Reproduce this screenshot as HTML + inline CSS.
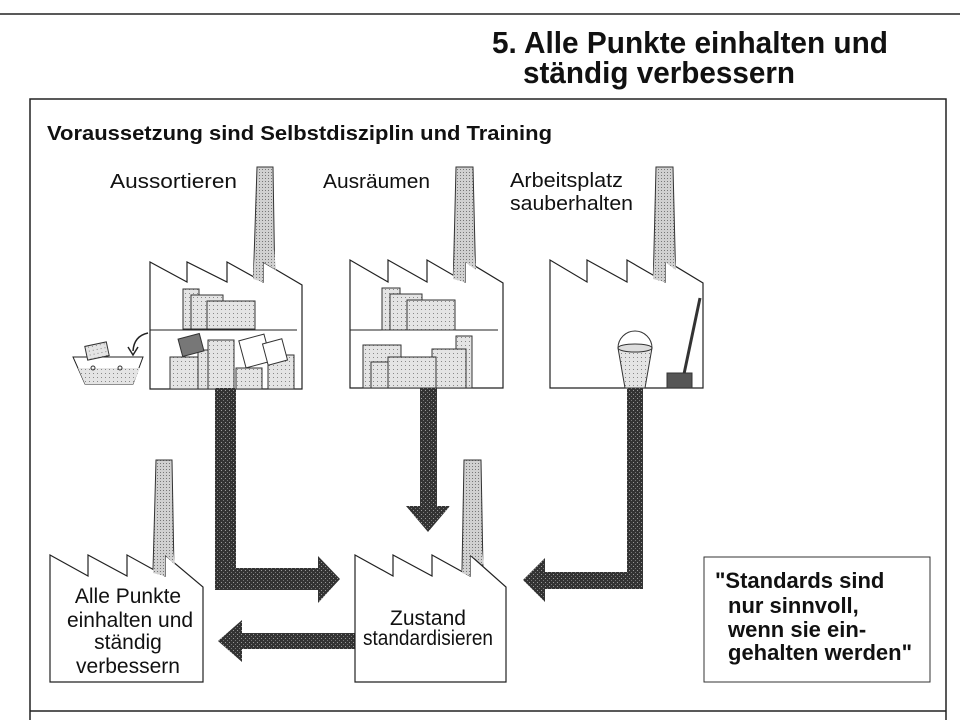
<!DOCTYPE html>
<html><head><meta charset="utf-8"><style>
html,body{margin:0;padding:0;background:#fff;}
svg{display:block;}
text{font-family:"Liberation Sans",sans-serif;fill:#111;}
</style></head><body>
<svg width="960" height="720" viewBox="0 0 960 720" xmlns="http://www.w3.org/2000/svg">
<defs>
<pattern id="lt" width="4" height="4" patternUnits="userSpaceOnUse"><rect width="4" height="4" fill="#e4e4e4"/><rect x="1" y="1" width="1" height="1" fill="#888"/></pattern>
<pattern id="ch" width="3" height="3" patternUnits="userSpaceOnUse"><rect width="3" height="3" fill="#d0d0d0"/><rect x="1" y="1" width="1" height="1" fill="#777"/></pattern>
<pattern id="dk" width="4" height="4" patternUnits="userSpaceOnUse"><rect width="4" height="4" fill="#333"/><rect x="1" y="2" width="1" height="1" fill="#999"/><rect x="3" y="0" width="1" height="1" fill="#777"/></pattern>
</defs>
<line x1="0" y1="14" x2="960" y2="14" stroke="#222" stroke-width="1.5"/>
<text x="492" y="53" font-size="31" font-weight="bold" textLength="396" lengthAdjust="spacingAndGlyphs">5. Alle Punkte einhalten und</text>
<text x="523" y="83" font-size="31" font-weight="bold" textLength="272" lengthAdjust="spacingAndGlyphs">ständig verbessern</text>
<path d="M30 720 V99 H946 V720" fill="none" stroke="#222" stroke-width="1.5"/>
<line x1="30" y1="711" x2="946" y2="711" stroke="#222" stroke-width="1.5"/>
<text x="47" y="140" font-size="20" font-weight="bold" textLength="505" lengthAdjust="spacingAndGlyphs">Voraussetzung sind Selbstdisziplin und Training</text>
<text x="110" y="188" font-size="20" textLength="127" lengthAdjust="spacingAndGlyphs">Aussortieren</text>
<text x="323" y="188" font-size="20" textLength="107" lengthAdjust="spacingAndGlyphs">Ausräumen</text>
<text x="510" y="187" font-size="20" textLength="113" lengthAdjust="spacingAndGlyphs">Arbeitsplatz</text>
<text x="510" y="210" font-size="20" textLength="123" lengthAdjust="spacingAndGlyphs">sauberhalten</text>

<!-- factory 1 -->
<path d="M253 290 L257 167 H273 L275 290 Z" fill="url(#ch)" stroke="#333"/>
<path d="M150 389 V262 L187 282 V262 L227 282 V262 L263 282 V262 L302 285 V389 Z" fill="#fff" stroke="#222" stroke-width="1.2"/>
<path d="M253 279 L255 250 H274 L276 270 L263 262 V282 Z" fill="url(#ch)"/>
<line x1="150" y1="330" x2="297" y2="330" stroke="#222"/>
<rect x="183" y="289" width="16" height="40" fill="url(#lt)" stroke="#333"/>
<rect x="191" y="295" width="32" height="34" fill="url(#lt)" stroke="#333"/>
<rect x="207" y="301" width="48" height="28" fill="url(#lt)" stroke="#333"/>
<rect x="170" y="357" width="28" height="32" fill="url(#lt)" stroke="#333"/>
<rect x="198" y="350" width="12" height="39" fill="url(#lt)" stroke="#333"/>
<rect x="208" y="340" width="26" height="49" fill="url(#lt)" stroke="#333"/>
<rect x="236" y="368" width="26" height="21" fill="url(#lt)" stroke="#333"/>
<rect x="268" y="355" width="26" height="34" fill="url(#lt)" stroke="#333"/>
<rect x="180" y="336" width="22" height="18" fill="#777" stroke="#333" transform="rotate(-15 191 345)"/>
<rect x="242" y="337" width="26" height="28" fill="#fff" stroke="#333" transform="rotate(-15 255 351)"/>
<rect x="265" y="341" width="20" height="22" fill="#fff" stroke="#333" transform="rotate(-15 275 352)"/>
<path d="M73 357 H143 L133 384 H85 Z" fill="#fff" stroke="#222"/>
<path d="M78 368 H140 L133 384 H85 Z" fill="url(#lt)"/>
<rect x="86" y="344" width="22" height="14" fill="url(#lt)" stroke="#333" transform="rotate(-12 97 351)"/>
<circle cx="93" cy="368" r="2" fill="none" stroke="#333"/><circle cx="120" cy="368" r="2" fill="none" stroke="#333"/>
<path d="M148 333 Q134 336 133 351" fill="none" stroke="#222" stroke-width="1.5"/>
<path d="M128 347 L133 355 L138 347" fill="none" stroke="#222" stroke-width="1.5"/>

<!-- factory 2 -->
<path d="M453 290 L456 167 H473 L476 290 Z" fill="url(#ch)" stroke="#333"/>
<path d="M350 388 V260 L388 282 V260 L427 282 V260 L465 282 V260 L503 283 V388 Z" fill="#fff" stroke="#222" stroke-width="1.2"/>
<path d="M453 279 L455 250 H474 L476 270 L465 262 V282 Z" fill="url(#ch)"/>
<line x1="350" y1="330" x2="498" y2="330" stroke="#222"/>
<rect x="382" y="288" width="18" height="42" fill="url(#lt)" stroke="#333"/>
<rect x="390" y="294" width="32" height="36" fill="url(#lt)" stroke="#333"/>
<rect x="407" y="300" width="48" height="30" fill="url(#lt)" stroke="#333"/>
<rect x="363" y="345" width="38" height="43" fill="url(#lt)" stroke="#333"/>
<rect x="456" y="336" width="16" height="52" fill="url(#lt)" stroke="#333"/>
<rect x="432" y="349" width="34" height="39" fill="url(#lt)" stroke="#333"/>
<rect x="371" y="362" width="20" height="26" fill="url(#lt)" stroke="#333"/>
<rect x="388" y="357" width="48" height="31" fill="url(#lt)" stroke="#333"/>

<!-- factory 3 -->
<path d="M653 290 L656 167 H673 L676 290 Z" fill="url(#ch)" stroke="#333"/>
<path d="M550 388 V260 L587 282 V260 L627 282 V260 L665 282 V260 L703 283 V388 Z" fill="#fff" stroke="#222" stroke-width="1.2"/>
<path d="M653 279 L655 250 H674 L676 270 L665 262 V282 Z" fill="url(#ch)"/>
<path d="M618 348 H652 L645 388 H625 Z" fill="url(#lt)" stroke="#333"/>
<path d="M618 348 A17 17 0 0 1 652 348" fill="none" stroke="#333"/>
<ellipse cx="635" cy="348" rx="17" ry="4" fill="#ddd" stroke="#333"/>
<path d="M700 298 L684 374" stroke="#333" stroke-width="3" fill="none"/>
<rect x="667" y="373" width="25" height="15" fill="#555" stroke="#333"/>

<!-- arrows -->
<path d="M215 388 H236 V568 H318 V556 L340 579 L318 603 V590 H215 Z" fill="url(#dk)"/>
<path d="M420 388 H437 V506 H450 L428 532 L406 506 H420 Z" fill="url(#dk)"/>
<path d="M627 388 H643 V589 H545 V602 L523 580 L545 558 V572 H627 Z" fill="url(#dk)"/>
<path d="M355 633 H242 V620 L218 641 L242 662 V649 H355 Z" fill="url(#dk)"/>

<!-- bottom left factory -->
<path d="M153 570 L156 460 H172 L174 570 Z" fill="url(#ch)" stroke="#333"/>
<path d="M50 682 V555 L88 576 V555 L127 576 V555 L165 576 V555 L203 587 V682 Z" fill="#fff" stroke="#222" stroke-width="1.2"/>
<path d="M153 573 L155 550 H173 L175 565 L165 555 V576 Z" fill="url(#ch)"/>
<text font-size="21" text-anchor="middle"><tspan x="128" y="603">Alle Punkte</tspan><tspan x="130" y="627">einhalten und</tspan><tspan x="128" y="649">ständig</tspan><tspan x="128" y="673">verbessern</tspan></text>

<!-- center factory -->
<path d="M462 570 L464 460 H481 L483 570 Z" fill="url(#ch)" stroke="#333"/>
<path d="M355 682 V555 L393 576 V555 L432 576 V555 L470 576 V555 L506 587 V682 Z" fill="#fff" stroke="#222" stroke-width="1.2"/>
<path d="M462 573 L464 550 H482 L484 565 L470 555 V576 Z" fill="url(#ch)"/>
<text x="428" y="625" font-size="21" text-anchor="middle">Zustand</text>
<text x="363" y="645" font-size="21" textLength="130" lengthAdjust="spacingAndGlyphs">standardisieren</text>

<!-- quote -->
<rect x="704" y="557" width="226" height="125" fill="#fff" stroke="#333"/>
<text font-size="22" font-weight="bold">
<tspan x="715" y="588">"Standards sind</tspan>
<tspan x="728" y="613">nur sinnvoll,</tspan>
<tspan x="728" y="637">wenn sie ein-</tspan>
<tspan x="728" y="660">gehalten werden"</tspan></text>
</svg>
</body></html>
